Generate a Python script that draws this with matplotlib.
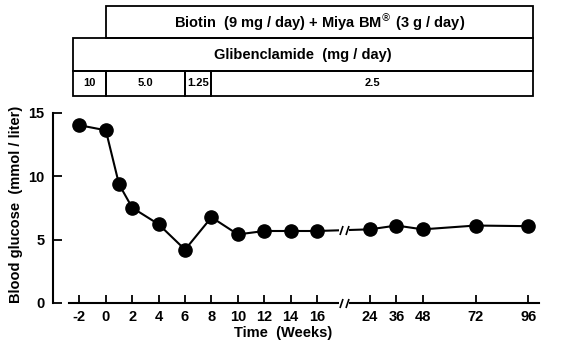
import numpy as np
import matplotlib
matplotlib.use("Agg")
import matplotlib.pyplot as plt
import matplotlib.transforms as mtransforms
from matplotlib.patches import Rectangle
from matplotlib.path import Path

# data
weeks = [-2, 0, 1, 2, 4, 6, 8, 10, 12, 14, 16, 24, 36, 48, 72, 96]
glucose = [14.0, 13.6, 9.35, 7.5, 6.2, 4.2, 6.75, 5.4, 5.67, 5.67, 5.67, 5.8, 6.1, 5.8, 6.1, 6.05]
tick_weeks = [-2, 0, 2, 4, 6, 8, 10, 12, 14, 16, 24, 36, 48, 72, 96]
tick_labels = [str(w) for w in tick_weeks]
y_ticks = [0, 5, 10, 15]

# treatment boxes above the plot (week edges)
dose_edges = [-2.5, 0, 6, 8, 98]
dose_labels = ["10", "5.0", "1.25", "2.5"]
gliben_span = [-2.5, 98]
biotin_span = [0, 98]
gliben_text = "Glibenclamide  (mg / day)"
biotin_text = r"Biotin  (9 mg / day) + Miya BM$^{\circledR}$ (3 g / day)"
break_week = 20


def fwd(w):
  w = np.asarray(w, dtype=float)
  return np.where(w <= 16, w, np.where(w <= 24, 16 + (w - 16) / 2, 20 + (w - 24) / 6))


def inv(p):
  p = np.asarray(p, dtype=float)
  return np.where(p <= 16, p, np.where(p <= 20, 16 + (p - 16) * 2, 24 + (p - 20) * 6))


def mid(a, b):
  # middle of two weeks on the broken axis
  return float(inv((fwd(a) + fwd(b)) / 2))


def marker(verts, codes):
  # custom marker sized in pixels (100 dpi)
  size = 2 * np.max(np.abs(verts)) / (100 / 72)
  return Path(verts, codes), size


def box(ax, trans, x0, x1, y0, y1, text, size):
  ax.add_patch(Rectangle((x0, y0), x1 - x0, y1 - y0, transform=trans,
                         fill=False, ec="black", lw=1.3, clip_on=False))
  ax.text(mid(x0, x1), (y0 + y1) / 2, text, transform=trans, ha="center",
          va="center", fontsize=size, fontweight="bold", clip_on=False)


def main():
  plt.rcParams["font.family"] = ["Liberation Sans", "DejaVu Sans"]
  fig = plt.figure(figsize=(5.74, 3.44), dpi=100)
  ax = fig.add_axes([53 / 574, 41 / 344, 501.8 / 574, 198.1 / 344])
  ax.set_xscale("function", functions=(fwd, inv))
  ax.set_xlim(-4.0, 108)
  ax.set_ylim(0, 15.6)

  ax.plot(weeks, glucose, color="black", lw=1.5, marker="o", ms=9.5,
          mfc="black", mec="black", zorder=3)

  # spines / ticks
  ax.spines["top"].set_visible(False)
  ax.spines["right"].set_visible(False)
  ax.spines["left"].set_bounds(0, 15)
  ax.spines["bottom"].set_bounds(-2.8, 101)
  for s in ["left", "bottom"]:
    ax.spines[s].set_linewidth(1.5)
  ax.set_xticks(tick_weeks)
  ax.set_xticklabels(tick_labels)
  ax.set_xticks([], minor=True)
  ax.set_yticks(y_ticks)
  ax.tick_params(axis="x", direction="in", length=5.5, width=1.3, pad=5,
                 labelsize=10.5)
  ax.tick_params(axis="y", direction="in", length=6.5, width=1.3, pad=6,
                 labelsize=10.5)
  for lab in ax.get_xticklabels() + ax.get_yticklabels():
    lab.set_fontweight("bold")

  ax.set_xlabel("Time  (Weeks)", fontsize=10.5, fontweight="bold")
  ax.xaxis.set_label_coords(0.458, -0.118)
  ax.set_ylabel("Blood glucose  (mmol / liter)", fontsize=10.5, fontweight="bold")
  ax.yaxis.set_label_coords(-0.06, 0.5)

  # axis breaks on the data line and on the x axis
  gap, gap_ms = marker([(-5, -2.6), (5, -2.6), (5, 2.6), (-5, 2.6), (-5, -2.6)],
                       [Path.MOVETO, Path.LINETO, Path.LINETO, Path.LINETO, Path.CLOSEPOLY])
  sl, sl_ms = marker([(-4.5, -4.5), (-1.5, 4.5), (1.5, -4.5), (4.5, 4.5)],
                     [Path.MOVETO, Path.LINETO, Path.MOVETO, Path.LINETO])
  y_break = float(np.interp(break_week, weeks, glucose))
  for yb in [y_break, 0]:
    ax.plot([break_week], [yb], marker=gap, ms=gap_ms, mfc="white", mew=0,
            ls="none", zorder=6, clip_on=False)
    ax.plot([break_week], [yb], marker=sl, ms=sl_ms, mfc="none", mec="black",
            mew=1.2, ls="none", zorder=7, clip_on=False)

  # treatment table
  trans = mtransforms.blended_transform_factory(ax.transData, fig.transFigure)
  rows = [1 - 6 / 344, 1 - 38.3 / 344, 1 - 70.7 / 344, 1 - 96 / 344]
  box(ax, trans, biotin_span[0], biotin_span[1], rows[1], rows[0], biotin_text, 10.5)
  box(ax, trans, gliben_span[0], gliben_span[1], rows[2], rows[1], gliben_text, 10.5)
  for i in range(len(dose_labels)):
    box(ax, trans, dose_edges[i], dose_edges[i + 1], rows[3], rows[2],
        dose_labels[i], 8)

  fig.savefig("out.png", dpi=100)


main()
